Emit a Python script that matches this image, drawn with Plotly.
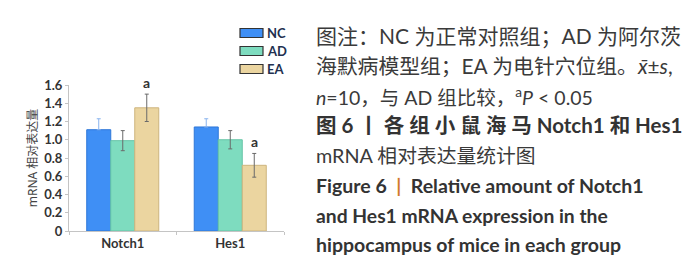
import plotly.graph_objects as go

categories = ["Notch1", "Hes1"]
groups = ["NC", "AD", "EA"]
means = {"NC": [1.11, 1.14], "AD": [0.99, 1.00], "EA": [1.35, 0.72]}
errs = {"NC": [0.12, 0.09], "AD": [0.11, 0.10], "EA": [0.15, 0.13]}
sig = {"EA": ["a", "a"]}
yticks = [0, 0.2, 0.4, 0.6, 0.8, 1.0, 1.2, 1.4, 1.6]
ytick_labels = ["0", "0.2", "0.4", "0.6", "0.8", "1.0", "1.2", "1.4", "1.6"]

colors = {"NC": "#3f8ff5", "AD": "#7edcbf", "EA": "#ebd5a0"}
edges = {"NC": "#2f78d8", "AD": "#66c4a6", "EA": "#cdb47e"}
errcol = {"NC": "#8ab4ee", "AD": "#6a6a6a", "EA": "#6a6a6a"}

W, H = 700, 273
L, R, T, B = 61, 424, 77, 50
PW, PH = W - L - R, H - T - B
BARGAP = 0.33

def px(x):
    return (x - L) / PW

def py(y):
    return (H - B - y) / PH

fig = go.Figure()
for g in groups:
    fig.add_trace(go.Bar(
        name=g, x=categories, y=means[g],
        marker=dict(color=colors[g], line=dict(color=edges[g], width=1)),
        error_y=dict(type="data", array=errs[g],
                     arrayminus=[0] * len(categories) if g == "NC" else errs[g],
                     color=errcol[g], thickness=1, width=2),
        showlegend=False,
    ))

# significance marks above EA bars
bw = (1 - BARGAP) / 3
for gi, g in enumerate(groups):
    if g in sig:
        for ci, c in enumerate(categories):
            fig.add_annotation(x=ci + (gi - 1) * bw, y=means[g][ci] + errs[g][ci],
                               xref="x", yref="y", text="<b>%s</b>" % sig[g][ci],
                               showarrow=False, yanchor="bottom", yshift=1,
                               font=dict(family="Lato, Noto Sans", size=14, color="#333"))

# custom legend
leg_y = [25, 43, 61]
for g, yy in zip(groups, leg_y):
    fig.add_shape(type="rect", xref="paper", yref="paper",
                  x0=px(232), x1=px(255), y0=py(yy - 4.5), y1=py(yy + 4.5),
                  fillcolor=colors[g], line=dict(color="#333333", width=1.2))
    fig.add_annotation(xref="paper", yref="paper", x=px(257), y=py(yy), text="<b>%s</b>" % g,
                       showarrow=False, xanchor="left", yanchor="middle",
                       font=dict(family="Lato, Noto Sans", size=13, color="#22304f"))

# caption text
cjk = "Lato, Noto Sans CJK SC"
lines = [
    (28, "图注：NC 为正常对照组；AD 为阿尔茨", 21, "#3a3a3a"),
    (58, "海默病模型组；EA 为电针穴位组。<i>x̄</i>±<i>s</i>,", 20.8, "#3a3a3a"),
    (88, "<i>n</i>=10，与 AD 组比较，<sup>a</sup><i>P</i> &lt; 0.05", 19.5, "#3a3a3a"),
    (117, "<b>图 6 丨 各 组 小 鼠 海 马 Notch1 和 Hes1</b>", 20.5, "#333333"),
    (147, "mRNA 相对表达量统计图", 19.8, "#3a3a3a"),
    (177, "<b>Figure 6\u00a0\u00a0<span style='color:#d07a2c'>|</span>\u00a0\u00a0Relative amount of Notch1</b>", 19.5, "#333333"),
    (207, "<b>and Hes1 mRNA expression in the</b>", 19.3, "#333333"),
    (236, "<b>hippocampus of mice in each group</b>", 19.5, "#333333"),
]
for yy, txt, sz, col in lines:
    fig.add_annotation(xref="paper", yref="paper", x=px(306), y=py(yy), text=txt,
                       showarrow=False, xanchor="left", yanchor="middle",
                       font=dict(family=cjk, size=sz, color=col))

fig.update_layout(
    width=W, height=H, margin=dict(l=L, r=R, t=T, b=B),
    paper_bgcolor="white", plot_bgcolor="white",
    barmode="group", bargap=BARGAP, bargroupgap=0,
    xaxis=dict(showline=True, linecolor="#c4c4c4", linewidth=1, ticks="outside",
               tickson="boundaries", ticklen=3, tickcolor="#c4c4c4",
               tickfont=dict(family="Lato, Noto Sans", size=13, color="#333"),
               showgrid=False),
    yaxis=dict(range=[0, 1.6], tickvals=yticks, ticktext=["<b>%s</b>" % t for t in ytick_labels],
               showline=True, linecolor="#c4c4c4", linewidth=1, ticks="outside",
               ticklen=3, tickcolor="#c4c4c4", showgrid=False, zeroline=False,
               tickfont=dict(family="Lato, Noto Sans", size=13, color="#333"),
               title=dict(text="mRNA 相对表达量", standoff=4,
                          font=dict(family="Noto Sans, Noto Sans CJK SC", size=12, color="#444"))),
)
fig.update_xaxes(ticktext=["<b>%s</b>" % c for c in categories], tickvals=categories)

fig.write_html("out.html")
